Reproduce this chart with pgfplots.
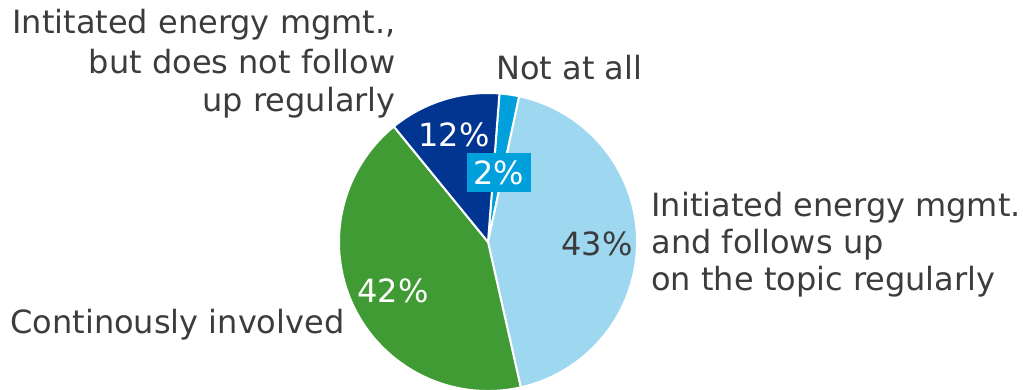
\documentclass[border=0pt]{standalone}
\usepackage{pgfplots}
\pgfplotsset{compat=1.18}
\usepackage{pgfplotstable}
\usepackage{fontspec}
\setmainfont{DejaVu Sans}
\definecolor{cyanc}{HTML}{00A0DC}
\definecolor{lightc}{HTML}{9DD7F0}
\definecolor{greenc}{HTML}{409B35}
\definecolor{darkc}{HTML}{003592}
\definecolor{txt}{HTML}{3C3C3C}
% shares of the pie, clockwise from the top
\pgfplotstableread{
share
2.14
43.11
42.64
12.11
}\piedata
\pgfplotstablegetelem{0}{share}\of\piedata \let\sA\pgfplotsretval
\pgfplotstablegetelem{1}{share}\of\piedata \let\sB\pgfplotsretval
\pgfplotstablegetelem{2}{share}\of\piedata \let\sC\pgfplotsretval
\pgfplotstablegetelem{3}{share}\of\piedata \let\sD\pgfplotsretval
\pgfmathsetmacro\aA{85.6}
\pgfmathsetmacro\aB{\aA-3.6*\sA}
\pgfmathsetmacro\aC{\aB-3.6*\sB}
\pgfmathsetmacro\aD{\aC-3.6*\sC}
\pgfmathsetmacro\aE{\aD-3.6*\sD}
\begin{document}
\begin{tikzpicture}
\begin{axis}[x=0.5pt, y=0.5pt, xmin=0, xmax=1023, ymin=0, ymax=390,
  hide axis, clip=false, scale only axis]
\coordinate (C) at (axis cs:488,148);
\fill[cyanc, draw=white, line width=1pt, line join=round] (C) -- ++(\aA:74.5pt) arc[start angle=\aA, end angle=\aB, radius=74.5pt] -- cycle;
\fill[lightc, draw=white, line width=1pt, line join=round] (C) -- ++(\aB:74.5pt) arc[start angle=\aB, end angle=\aC, radius=74.5pt] -- cycle;
\fill[greenc, draw=white, line width=1pt, line join=round] (C) -- ++(\aC:74.5pt) arc[start angle=\aC, end angle=\aD, radius=74.5pt] -- cycle;
\fill[darkc, draw=white, line width=1pt, line join=round] (C) -- ++(\aD:74.5pt) arc[start angle=\aD, end angle=\aE, radius=74.5pt] -- cycle;
\begin{scope}[every node/.style={font=\fontsize{16}{19}\selectfont, inner sep=0pt, text=txt}]
\node[anchor=base west] at (axis cs:651,173) {Initiated energy mgmt.};
\node[anchor=base west] at (axis cs:651,136) {and follows up};
\node[anchor=base west] at (axis cs:651,99) {on the topic regularly};
\node[anchor=base east] at (axis cs:396,356) {Intitated energy mgmt.,};
\node[anchor=base east] at (axis cs:396,316) {but does not follow};
\node[anchor=base east] at (axis cs:396,278) {up regularly};
\node[anchor=base west] at (axis cs:496,310) {Not at all};
\node[anchor=base west] at (axis cs:10,56) {Continously involved};
\node[text=white] at (axis cs:454,255) {12\%};
\node[text=white, fill=cyanc, minimum width=32pt, minimum height=19.5pt] at (axis cs:499,217.5) {2\%};
\node at (axis cs:597,146) {43\%};
\node[text=white] at (axis cs:393,99) {42\%};
\end{scope}
\end{axis}
\pgfresetboundingbox
\path (current axis.south west) rectangle (current axis.north east);
\end{tikzpicture}
\end{document}
